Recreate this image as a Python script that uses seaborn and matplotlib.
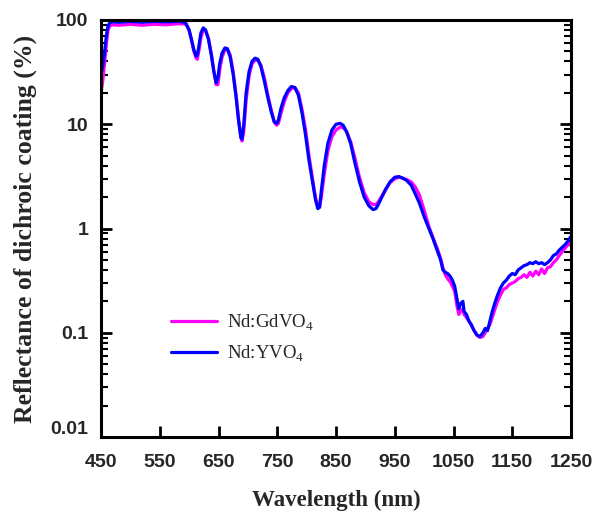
import numpy as np
import pandas as pd
import matplotlib
matplotlib.use("Agg")
import matplotlib.pyplot as plt
import matplotlib.ticker as mticker
import matplotlib.transforms as mtransforms
import seaborn as sns

wavelength = [450, 453, 456, 459, 462, 465, 470, 480, 500, 520, 540, 560, 580, 590, 595, 600, 604, 608, 612, 614,
              617, 620, 624, 628, 633, 638, 642, 646, 649, 652, 656, 661, 665, 670, 675, 680, 684, 688, 690, 693,
              697, 702, 707, 712, 717, 722, 728, 734, 740, 745, 749, 752, 756, 762, 768, 774, 780, 786, 792, 798,
              804, 810, 815, 819, 822, 825, 830, 836, 843, 850, 857, 862, 868, 875, 882, 890, 898, 906, 913, 918,
              922, 928, 935, 942, 950, 957, 963, 970, 978, 985, 992, 1000, 1008, 1015, 1022, 1028, 1032, 1036, 1040, 1044,
              1048, 1052, 1056, 1059, 1062, 1066, 1068, 1072, 1076, 1080, 1085, 1090, 1095, 1100, 1104, 1108, 1112, 1116, 1120, 1125,
              1130, 1135, 1140, 1145, 1150, 1155, 1160, 1165, 1170, 1175, 1180, 1185, 1190, 1195, 1200, 1205, 1210, 1215, 1220, 1225,
              1230, 1235, 1240, 1245, 1250]

gdvo4 = [20, 26, 38, 58, 80, 88, 90, 89, 91, 89, 91, 90, 92, 92, 90, 80, 64, 50, 43, 42,
         52, 68, 80, 80, 66, 47, 33, 24, 24, 33, 44, 52, 53, 46, 32, 19, 11.5, 7.5, 6.9, 8.5,
         17, 29, 38, 41, 41, 37, 28, 19, 13.5, 10.5, 9.8, 10.2, 12.5, 16.5, 20, 22, 22.5, 20, 14, 9,
         5, 3, 2, 1.65, 1.6, 2.0, 3.3, 5.5, 7.6, 8.8, 9.4, 9.3, 8.5, 6.8, 4.8, 3.1, 2.2, 1.8, 1.7, 1.7,
         1.8, 2.05, 2.4, 2.75, 3.0, 3.1, 3.05, 2.95, 2.8, 2.5, 2.1, 1.5, 1.05, 0.82, 0.65, 0.52, 0.42, 0.36, 0.33, 0.31,
         0.28, 0.25, 0.18, 0.15, 0.16, 0.17, 0.15, 0.14, 0.13, 0.12, 0.105, 0.095, 0.09, 0.092, 0.1, 0.11, 0.12, 0.14, 0.165, 0.2,
         0.23, 0.26, 0.27, 0.29, 0.3, 0.31, 0.33, 0.34, 0.36, 0.34, 0.38, 0.35, 0.39, 0.36, 0.41, 0.37, 0.42, 0.43, 0.47, 0.5,
         0.55, 0.6, 0.65, 0.7, 0.77]

yvo4 = [30, 36, 48, 70, 88, 94, 96, 95, 97, 95, 97, 96, 97, 96, 92, 80, 65, 52, 45, 46,
        58, 75, 84, 80, 65, 45, 32, 25, 28, 38, 48, 54, 53, 44, 30, 18, 11, 7.5, 7.2, 10,
        20, 32, 40, 43, 42, 36, 26, 18, 13, 10.5, 10.2, 11, 14, 18, 21, 23, 22.5, 19, 13, 8,
        4.5, 2.8, 1.9, 1.55, 1.6, 2.3, 4, 6.5, 8.8, 10, 10.2, 9.8, 8.5, 6.5, 4.3, 2.8, 2.0, 1.65, 1.52, 1.55,
        1.7, 2.0, 2.4, 2.8, 3.1, 3.15, 3.05, 2.9, 2.6, 2.15, 1.75, 1.3, 1.0, 0.8, 0.62, 0.5, 0.4, 0.38, 0.37, 0.35,
        0.32, 0.28, 0.21, 0.17, 0.19, 0.2, 0.16, 0.15, 0.13, 0.12, 0.105, 0.095, 0.092, 0.1, 0.11, 0.105, 0.13, 0.16, 0.19, 0.23,
        0.27, 0.3, 0.32, 0.35, 0.37, 0.36, 0.4, 0.42, 0.44, 0.45, 0.47, 0.46, 0.48, 0.46, 0.47, 0.45, 0.47, 0.5, 0.55, 0.57,
        0.62, 0.66, 0.7, 0.76, 0.84]

series_names = ["Nd:GdVO$_4$", "Nd:YVO$_4$"]
colors = ["#ff00ff", "#0000ff"]
x_ticks = [450, 550, 650, 750, 850, 950, 1050, 1150, 1250]
y_ticks = [0.01, 0.1, 1, 10, 100]
y_tick_labels = ["0.01", "0.1", "1", "10", "100"]

df = pd.concat([
    pd.DataFrame({"wl": wavelength, "R": gdvo4, "s": series_names[0]}),
    pd.DataFrame({"wl": wavelength, "R": yvo4, "s": series_names[1]}),
])

sns.set_theme(style="white")
plt.rcParams["font.family"] = ["Liberation Serif", "DejaVu Serif"]
plt.rcParams["mathtext.fontset"] = "custom"
plt.rcParams["mathtext.rm"] = "Liberation Serif"

fig = plt.figure(figsize=(5.94, 5.12), dpi=100)
ax = fig.add_axes([101/594, 1-437/512, 470/594, 417/512])

sns.lineplot(data=df, x="wl", y="R", hue="s", palette=colors, hue_order=series_names,
             estimator=None, sort=False, linewidth=2.3, legend=False, ax=ax)

ax.set_yscale("log")
ax.set_xlim(450, 1250)
ax.set_ylim(0.01, 100)
ax.set_xticks(x_ticks)
ax.set_yticks(y_ticks)
ax.yaxis.set_major_formatter(mticker.FixedFormatter(y_tick_labels))
ax.yaxis.set_minor_locator(mticker.LogLocator(base=10, subs=np.arange(2, 10), numticks=20))
ax.yaxis.set_minor_formatter(mticker.NullFormatter())

for sp in ax.spines.values():
    sp.set_visible(True)
    sp.set_color("black")
    sp.set_linewidth(2.2)

ax.tick_params(axis="both", which="major", direction="in", length=8, width=2, color="black",
               left=True, right=True, bottom=True, top=False, labelsize=14)
ax.tick_params(axis="x", which="major", pad=12)
ax.tick_params(axis="y", which="major", pad=9)
ax.tick_params(axis="y", which="minor", direction="in", length=5, width=1.5, color="black",
               left=True, right=True)
for lab in ax.get_xticklabels() + ax.get_yticklabels():
    lab.set_fontfamily("Liberation Sans")
    lab.set_fontweight("bold")

# the bottom "0.01" label sits a little above its tick in the reference
ylabs = ax.get_yticklabels()
ylabs[0].set_transform(ylabs[0].get_transform() +
                       mtransforms.ScaledTranslation(0, 10/100, fig.dpi_scale_trans))

ax.set_xlabel("Wavelength (nm)", fontsize=16.5, fontweight="bold", labelpad=14)
ax.set_ylabel("Reflectance of dichroic coating (%)", fontsize=18.5, fontweight="bold", labelpad=10)

leg = ax.legend(ax.lines[:2], series_names, loc="upper left", bbox_to_anchor=(0.114, 0.338),
                frameon=False, fontsize=13.5, handlelength=2.45, handletextpad=0.53, labelspacing=0.56)
for l in leg.get_lines():
    l.set_linewidth(2.3)

fig.savefig("out.png", dpi=100)
